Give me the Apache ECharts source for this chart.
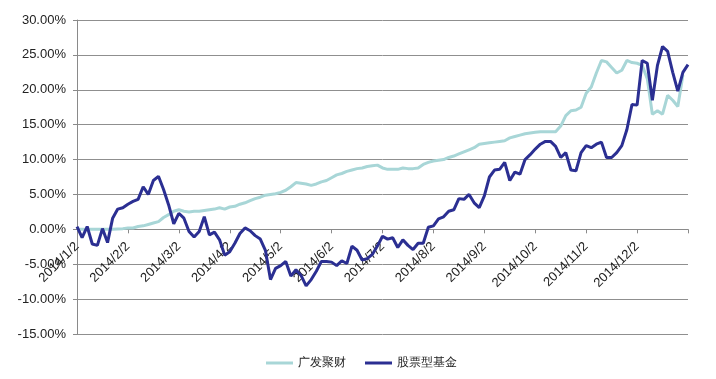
<!DOCTYPE html>
<html>
<head>
<meta charset="utf-8">
<script src="https://cdn.jsdelivr.net/npm/echarts@6/dist/echarts.min.js"></script>
<style>
html,body{margin:0;padding:0;background:#fff;}
#chart{width:716px;height:379px;}
</style>
</head>
<body>
<div id="chart"></div>
<script>
// Tick labels (one per month), samples per month
const monthLabels = ['2014/1/2','2014/2/2','2014/3/2','2014/4/2','2014/5/2','2014/6/2','2014/7/2','2014/8/2','2014/9/2','2014/10/2','2014/11/2','2014/12/2'];
const stepsPerMonth = 10;
const seriesNames = ['广发聚财', '股票型基金'];

// 广发聚财 (%)
const fundValues = [
  0.0, 0.0, 0.0, 0.0, 0.0, 0.0, 0.0, 0.0, 0.05, 0.1,
  0.2, 0.2, 0.4, 0.5, 0.7, 0.9, 1.1, 1.7, 2.1, 2.6,
  2.8, 2.6, 2.5, 2.6, 2.6, 2.7, 2.8, 2.9, 3.1, 2.9,
  3.2, 3.3, 3.6, 3.8, 4.1, 4.4, 4.6, 4.9, 5.0, 5.1,
  5.3, 5.6, 6.1, 6.7, 6.6, 6.5, 6.3, 6.5, 6.8, 7.0,
  7.4, 7.8, 8.0, 8.3, 8.5, 8.7, 8.8, 9.0, 9.1, 9.2,
  8.8, 8.6, 8.6, 8.6, 8.8, 8.7, 8.7, 8.8, 9.3, 9.6,
  9.8, 9.9, 10.0, 10.3, 10.5, 10.8, 11.1, 11.4, 11.7, 12.2,
  12.3, 12.4, 12.5, 12.6, 12.7, 13.1, 13.3, 13.5, 13.7, 13.8,
  13.9, 14.0, 14.0, 14.0, 14.0, 14.8, 16.3, 17.0, 17.1, 17.5,
  19.5, 20.4, 22.4, 24.2, 24.0, 23.2, 22.4, 22.8, 24.2, 23.9,
  23.8, 23.5, 21.6, 16.5, 17.0, 16.5, 19.2, 18.5, 17.6, 22.1,
  null
];

// 股票型基金 (%)
const stockValues = [
  0.4, -1.2, 0.4, -2.1, -2.3, 0.1, -1.9, 1.6, 2.9, 3.1,
  3.6, 4.0, 4.3, 6.1, 5.0, 7.0, 7.6, 5.7, 3.5, 0.8,
  2.3, 1.6, -0.3, -1.1, -0.3, 1.8, -0.8, -0.4, -1.5, -3.7,
  -3.2, -2.0, -0.6, 0.2, -0.2, -0.9, -1.4, -3.0, -7.2, -5.6,
  -5.2, -4.6, -6.7, -5.8, -6.6, -8.1, -7.2, -6.0, -4.6, -4.6,
  -4.7, -5.2, -4.5, -4.9, -2.4, -3.0, -4.4, -4.2, -3.6, -2.4,
  -1.0, -1.4, -1.2, -2.6, -1.5, -2.3, -2.9, -2.0, -2.0, 0.3,
  0.5, 1.5, 1.8, 2.6, 2.8, 4.4, 4.3, 5.0, 3.8, 3.1,
  4.8, 7.5, 8.5, 8.6, 9.6, 7.0, 8.2, 7.9, 10.0, 10.7,
  11.5, 12.2, 12.6, 12.6, 11.9, 10.3, 11.0, 8.5, 8.4, 11.0,
  12.0, 11.7, 12.2, 12.5, 10.3, 10.3, 11.0, 12.0, 14.3, 17.9,
  17.8, 24.2, 23.8, 18.5, 23.5, 26.2, 25.5, 22.5, 19.8, 22.5,
  23.6
];

const categories = fundValues.map((_, i) =>
  i % stepsPerMonth === 0 ? (monthLabels[i / stepsPerMonth] || '') : '');

const yMin = -15, yMax = 30;
const gridTop = 20, gridBottom = 45, chartH = 379;
const plotH = chartH - gridTop - gridBottom;
// move the category axis up to the zero line of the value axis
const zeroOffset = -plotH * (0 - yMin) / (yMax - yMin);

const chart = echarts.init(document.getElementById('chart'), null, {renderer: 'canvas'});
const textColor = '#222';
const font = '"Liberation Sans", Arial, sans-serif';
chart.setOption({
  animation: false,
  backgroundColor: '#fff',
  grid: {left: 77, right: 28, top: gridTop, bottom: gridBottom, containLabel: false, outerBoundsMode: 'none'},
  legend: {
    top: 352,
    left: 261,
    icon: 'rect',
    itemWidth: 27,
    itemHeight: 3,
    itemGap: 19,
    textStyle: {color: textColor, fontSize: 12, fontFamily: font},
    data: seriesNames
  },
  xAxis: {
    type: 'category',
    data: categories,
    boundaryGap: false,
    offset: zeroOffset,
    axisLine: {show: true, onZero: false, lineStyle: {color: '#8a8a8a', width: 1}},
    axisTick: {show: true, interval: stepsPerMonth - 1, length: 4, lineStyle: {color: '#8a8a8a'}},
    axisLabel: {
      interval: stepsPerMonth - 1,
      rotate: 45,
      margin: 15,
      color: textColor,
      fontSize: 13,
      fontFamily: font
    },
    splitLine: {show: false}
  },
  yAxis: {
    type: 'value',
    min: yMin,
    max: yMax,
    interval: 5,
    axisLine: {show: true, lineStyle: {color: '#8a8a8a', width: 1}},
    axisTick: {show: true, length: 4, lineStyle: {color: '#8a8a8a'}},
    axisLabel: {
      margin: 11,
      color: textColor,
      fontSize: 13,
      fontFamily: font,
      formatter: v => v.toFixed(2) + '%'
    },
    splitLine: {show: true, lineStyle: {color: '#8f8f8f', width: 1}}
  },
  series: [
    {
      name: seriesNames[0],
      type: 'line',
      data: fundValues,
      symbol: 'none',
      smooth: false,
      lineStyle: {color: '#a8d6d7', width: 3},
      itemStyle: {color: '#a8d6d7'},
      emphasis: {disabled: true}
    },
    {
      name: seriesNames[1],
      type: 'line',
      data: stockValues,
      symbol: 'none',
      smooth: false,
      lineStyle: {color: '#2b2f92', width: 3},
      itemStyle: {color: '#2b2f92'},
      emphasis: {disabled: true}
    }
  ]
});
</script>
</body>
</html>
